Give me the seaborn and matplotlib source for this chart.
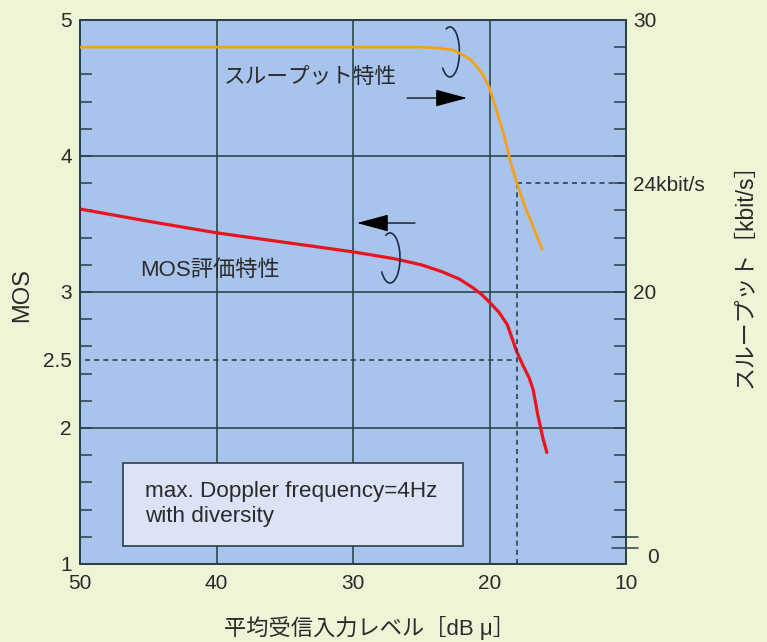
import matplotlib
matplotlib.use("Agg")
import matplotlib.pyplot as plt
import matplotlib.transforms as mtransforms
from matplotlib.patches import Arc, Rectangle
from matplotlib.ticker import FixedLocator
import seaborn as sns

# ---------------- data ----------------
level_mos = [50, 45, 40, 35, 30, 27, 25, 23.5, 22.2, 21.2, 20.5, 20.0, 19.3, 18.7,
             18.35, 18.0, 17.55, 17.1, 16.8, 16.45, 16.1, 15.8]
mos_values = [3.61, 3.52, 3.435, 3.365, 3.295, 3.245, 3.20, 3.15, 3.095, 3.03, 2.975, 2.925,
              2.85, 2.76, 2.66, 2.56, 2.46, 2.37, 2.28, 2.09, 1.93, 1.82]

level_thr = [50, 40, 30, 25.0, 23.8, 22.7, 21.9, 21.4, 20.9, 20.5, 20.0, 19.5,
             18.9, 18.5, 18.0, 17.3, 17.0, 16.15]
thr_values = [29.0, 29.0, 29.0, 29.0, 28.97, 28.9, 28.7, 28.55, 28.27, 28.0, 27.5, 26.7,
              25.7, 24.85, 24.0, 23.0, 22.65, 21.58]

x_ticks = [50, 40, 30, 20, 10]
x_labels = ["50", "40", "30", "20", "10"]
mos_ticks = [1, 2, 2.5, 3, 4, 5]
mos_labels = ["1", "2", "2.5", "3", "4", "5"]
thr_ticks = [20, 24, 30]
thr_labels = ["20", "24kbit/s", "30"]

ref_level = 18.0
ref_mos = 2.5
ref_thr = 24.0

# ---------------- style ----------------
fig_bg = "#eef5d7"
plot_bg = "#a9c4ec"
box_bg = "#dde3f7"
dark = "#2b4048"
grid_c = "#2a464c"
text_c = "#2a2a2a"
red = "#e8141e"
orange = "#f4a11a"

sns.set_style("white")
plt.rcParams["font.family"] = ["Liberation Sans", "Noto Sans CJK JP", "DejaVu Sans"]

fig = plt.figure(figsize=(7.67, 6.42), dpi=100, facecolor=fig_bg)
ax = fig.add_axes([0.1043, 0.1215, 0.7119, 0.8474])
ax.set_facecolor(plot_bg)

sns.lineplot(x=level_mos, y=mos_values, ax=ax, color=red, linewidth=2.3, zorder=5)
ax.set_xlim(50, 10)
ax.set_ylim(1, 5)

ax2 = ax.twinx()
sns.lineplot(x=level_thr, y=thr_values, ax=ax2, color=orange, linewidth=2.0, zorder=5)
ax2.set_ylim(10, 30)
ax.set_xlim(50, 10)

# ticks
ax.set_xticks(x_ticks, x_labels)
ax.xaxis.set_minor_locator(FixedLocator([v for v in range(12, 50, 2) if v % 10]))
ax.set_yticks(mos_ticks, mos_labels)
ax.yaxis.set_minor_locator(FixedLocator([1 + 0.2 * i for i in range(1, 20) if i % 5]))

ax2.set_yticks(thr_ticks, thr_labels)
ax2.yaxis.set_minor_locator(FixedLocator([v for v in range(11, 30) if v not in (20, 24)]))

ax.grid(True, which="major", color=grid_c, linewidth=1.2)
ax.grid(False, which="minor")
ax2.grid(False)

ax.tick_params(axis="both", which="both", direction="in", length=8.6, width=1.1,
               color=dark, labelcolor=text_c, labelsize=15, top=False, right=False)
ax.tick_params(axis="x", which="major", pad=7)
ax.tick_params(axis="y", which="major", pad=6)
ax2.tick_params(axis="y", which="both", direction="in", length=8.6, width=1.1,
                color=dark, labelcolor=text_c, labelsize=15, pad=5, left=False)

t25 = ax.yaxis.get_major_ticks()[2]
t25.tick1line.set_visible(False)
t25.gridline.set_visible(False)

for a in (ax, ax2):
    for s in a.spines.values():
        s.set_color(dark)
        s.set_linewidth(1.3)

# reference dashed lines
dash = (0, (3, 2.5))
ax.hlines(ref_mos, 49.6, ref_level, colors=dark, linestyles=dash, linewidth=1.2, zorder=3)
ax2.vlines(ref_level, 10, ref_thr, colors=dark, linestyles=dash, linewidth=1.2, zorder=3)
ax2.hlines(ref_thr, ref_level, 10, colors=dark, linestyles=dash, linewidth=1.2, zorder=3)

# axis break on the right + "0"
trans = mtransforms.blended_transform_factory(ax2.transAxes, ax2.transData)
for yv in (11.0, 10.6):
    ax2.plot([0.974, 1.022], [yv, yv], transform=trans, clip_on=False, color=dark, lw=1.1)
ax2.text(1.039, 10.25, "0", transform=trans, ha="left", va="center", fontsize=15, color=text_c)

# annotations
ax.text(33.15, 4.58, "スループット特性", fontsize=15.6, ha="center", va="center", color=text_c, zorder=6)
ax.text(40.48, 3.16, "MOS評価特性", fontsize=16, ha="center", va="center", color=text_c, zorder=6)

arrow_kw = dict(arrowstyle="-|>,head_length=1.0,head_width=0.27", color="black",
                lw=0.9, mutation_scale=20, shrinkA=0, shrinkB=0)
ax.annotate("", xy=(21.65, 4.426), xytext=(26.04, 4.426), arrowprops=arrow_kw, zorder=6)
ax.annotate("", xy=(29.71, 3.507), xytext=(25.46, 3.507), arrowprops=arrow_kw, zorder=6)

ax.add_patch(Arc((22.9, 4.765), 1.39, 0.368, theta1=29, theta2=348,
                 color="#1c2c44", lw=1.2, zorder=6))
ax.add_patch(Arc((27.29, 3.25), 1.465, 0.368, theta1=26, theta2=351,
                 color="#1c2c44", lw=1.2, zorder=6))

# info box
ax.add_patch(Rectangle((0.0788, 0.0331), 0.6227, 0.1526, transform=ax.transAxes,
                       facecolor=box_bg, edgecolor=dark, lw=1.2, zorder=4))
ax.text(0.119, 0.111, "max. Doppler frequency=4Hz\nwith diversity", transform=ax.transAxes,
        fontsize=16.2, ha="left", va="center", linespacing=1.25, color=text_c, zorder=6)

# axis labels
ax.set_xlabel("平均受信入力レベル［dB μ］", fontsize=16, color=text_c)
ax.xaxis.set_label_coords(0.53, -0.118)
ax.xaxis.label.set_va("center")
ax.set_ylabel("MOS", fontsize=17, color=text_c)
ax.yaxis.set_label_coords(-0.106, 0.4945)
ax.yaxis.label.set_va("center")
ax2.set_ylabel("スループット［kbit/s］", fontsize=16.5, color=text_c, rotation=90)
ax2.yaxis.set_label_coords(1.218, 0.54)
ax2.yaxis.label.set_va("center")

fig.savefig("out.png", dpi=100, facecolor=fig_bg)
